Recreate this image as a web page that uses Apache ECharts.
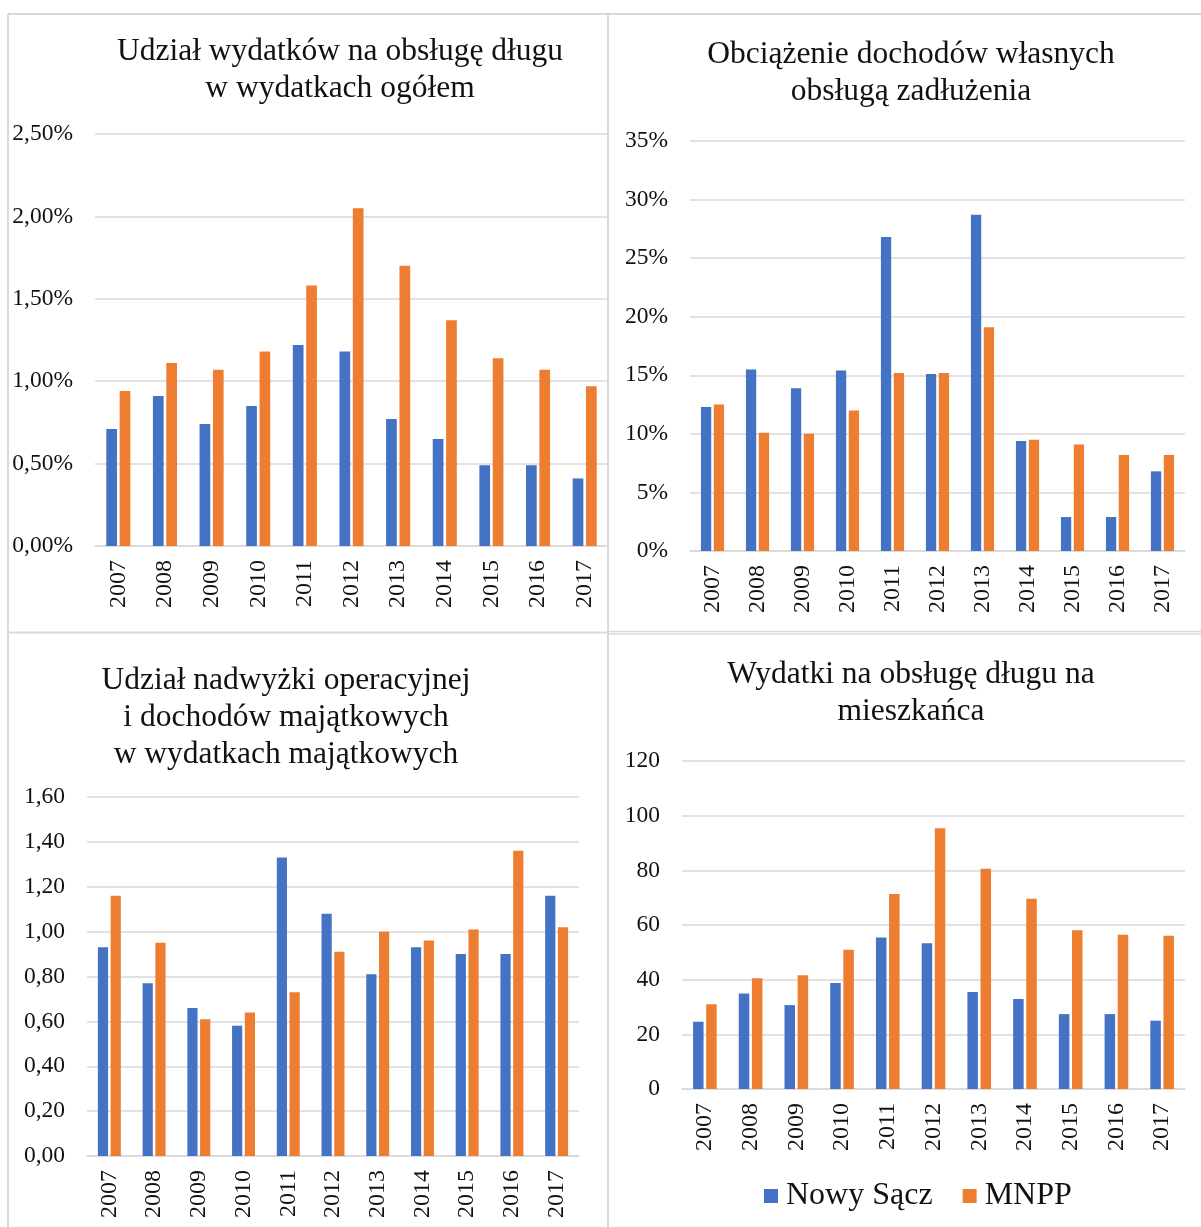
<!DOCTYPE html>
<html>
<head>
<meta charset="utf-8">
<script src="https://cdn.jsdelivr.net/npm/echarts@6/dist/echarts.min.js"></script>
<style>
  html, body { margin: 0; padding: 0; background: #fff; }
  #chart { width: 1201px; height: 1227px; }
</style>
</head>
<body>
<div id="chart"></div>
<script>
// Years on every category axis
const years = ['2007','2008','2009','2010','2011','2012','2013','2014','2015','2016','2017'];
const seriesNames = ['Nowy Sącz', 'MNPP'];

// Udział wydatków na obsługę długu w wydatkach ogółem (%)
const debtShareNS   = [0.71, 0.91, 0.74, 0.85, 1.22, 1.18, 0.77, 0.65, 0.49, 0.49, 0.41];
const debtShareMNPP = [0.94, 1.11, 1.07, 1.18, 1.58, 2.05, 1.70, 1.37, 1.14, 1.07, 0.97];

// Obciążenie dochodów własnych obsługą zadłużenia (%)
const burdenNS   = [12.3, 15.5, 13.9, 15.4, 26.8, 15.1, 28.7, 9.4, 2.9, 2.9, 6.8];
const burdenMNPP = [12.5, 10.1, 10.0, 12.0, 15.2, 15.2, 19.1, 9.5, 9.1, 8.2, 8.2];

// Udział nadwyżki operacyjnej i dochodów majątkowych w wydatkach majątkowych
const surplusNS   = [0.93, 0.77, 0.66, 0.58, 1.33, 1.08, 0.81, 0.93, 0.90, 0.90, 1.16];
const surplusMNPP = [1.16, 0.95, 0.61, 0.64, 0.73, 0.91, 1.00, 0.96, 1.01, 1.36, 1.02];

// Wydatki na obsługę długu na mieszkańca
const perCapitaNS   = [24.6, 34.9, 30.7, 38.8, 55.4, 53.3, 35.5, 32.9, 27.4, 27.4, 25.0];
const perCapitaMNPP = [31.0, 40.5, 41.6, 50.9, 71.3, 95.4, 80.6, 69.6, 58.1, 56.4, 56.1];

const BLUE = '#4472C4';
const ORANGE = '#ED7D31';
const GRID = '#D9D9D9';
const FONT = '"Liberation Serif", "Times New Roman", serif';
const TEXT = '#111';

const comma = (v, d) => v.toFixed(d).replace('.', ',');

const panels = [
  { title: 'Udział wydatków na obsługę długu\nw wydatkach ogółem', tx: 340, ty: 33,
    grid: { left: 95, top: 134, width: 513, height: 412 },
    y: { min: 0, max: 2.5, interval: 0.5, fmt: v => comma(v, 2) + '%' },
    data: [debtShareNS, debtShareMNPP], bw: 10.7 },
  { title: 'Obciążenie dochodów własnych\nobsługą zadłużenia', tx: 911, ty: 36.5,
    grid: { left: 690, top: 141, width: 495, height: 410 },
    y: { min: 0, max: 35, interval: 5, fmt: v => v + '%' },
    data: [burdenNS, burdenMNPP], bw: 10.3 },
  { title: 'Udział nadwyżki operacyjnej\ni dochodów majątkowych\nw wydatkach majątkowych', tx: 286, ty: 662.5,
    grid: { left: 87, top: 797, width: 492, height: 359 },
    y: { min: 0, max: 1.6, interval: 0.2, fmt: v => comma(v, 2) },
    data: [surplusNS, surplusMNPP], bw: 10.2 },
  { title: 'Wydatki na obsługę długu na\nmieszkańca', tx: 911, ty: 656.5,
    grid: { left: 682, top: 761, width: 503, height: 328 },
    y: { min: 0, max: 120, interval: 20, fmt: v => String(v) },
    data: [perCapitaNS, perCapitaMNPP], bw: 10.5 }
];

const option = {
  animation: false,
  backgroundColor: '#fff',
  textStyle: { fontFamily: FONT },
  title: panels.map(p => ({
    text: p.title,
    left: p.tx,
    top: p.ty,
    textAlign: 'center',
    padding: 0,
    textStyle: { fontFamily: FONT, fontSize: 31.5, fontWeight: 'normal', color: TEXT, lineHeight: 37 }
  })),
  legend: {
    data: seriesNames,
    left: 764,
    top: 1180,
    padding: 0,
    icon: 'rect',
    itemWidth: 14,
    itemHeight: 14,
    itemGap: 30,
    textStyle: { fontFamily: FONT, fontSize: 32, color: TEXT, padding: [0, 0, 0, 3] }
  },
  grid: panels.map(p => ({ left: p.grid.left, top: p.grid.top, width: p.grid.width, height: p.grid.height, containLabel: false })),
  xAxis: panels.map((p, i) => ({
    type: 'category',
    gridIndex: i,
    data: years,
    axisLine: { show: true, lineStyle: { color: GRID, width: 1.5 } },
    axisTick: { show: false },
    axisLabel: { rotate: 90, margin: 14, fontFamily: FONT, fontSize: 24, color: TEXT }
  })),
  yAxis: panels.map((p, i) => ({
    type: 'value',
    gridIndex: i,
    min: p.y.min,
    max: p.y.max,
    interval: p.y.interval,
    axisLine: { show: false },
    axisTick: { show: false },
    splitLine: { lineStyle: { color: GRID, width: 1.5 } },
    axisLabel: { margin: 22, fontFamily: FONT, fontSize: 23.5, color: TEXT, formatter: p.y.fmt }
  })),
  series: panels.flatMap((p, i) => [
    { name: seriesNames[0], type: 'bar', xAxisIndex: i, yAxisIndex: i, data: p.data[0],
      barWidth: p.bw, barGap: '25%', itemStyle: { color: BLUE } },
    { name: seriesNames[1], type: 'bar', xAxisIndex: i, yAxisIndex: i, data: p.data[1],
      barWidth: p.bw, barGap: '25%', itemStyle: { color: ORANGE } }
  ]),
  graphic: [
    // panel frames
    { type: 'line', shape: { x1: 8, y1: 14, x2: 1201, y2: 14 }, style: { stroke: GRID, lineWidth: 2 } },
    { type: 'line', shape: { x1: 8, y1: 14, x2: 8, y2: 1227 }, style: { stroke: GRID, lineWidth: 2 } },
    { type: 'line', shape: { x1: 608, y1: 14, x2: 608, y2: 1227 }, style: { stroke: GRID, lineWidth: 2 } },
    { type: 'line', shape: { x1: 8, y1: 632.5, x2: 608, y2: 632.5 }, style: { stroke: GRID, lineWidth: 2 } },
    { type: 'line', shape: { x1: 608, y1: 631.5, x2: 1201, y2: 631.5 }, style: { stroke: GRID, lineWidth: 1.5 } },
    { type: 'line', shape: { x1: 608, y1: 634, x2: 1201, y2: 634 }, style: { stroke: GRID, lineWidth: 1.5 } }
  ]
};

const chart = echarts.init(document.getElementById('chart'), null, { renderer: 'canvas' });
chart.setOption(option);
</script>
</body>
</html>
